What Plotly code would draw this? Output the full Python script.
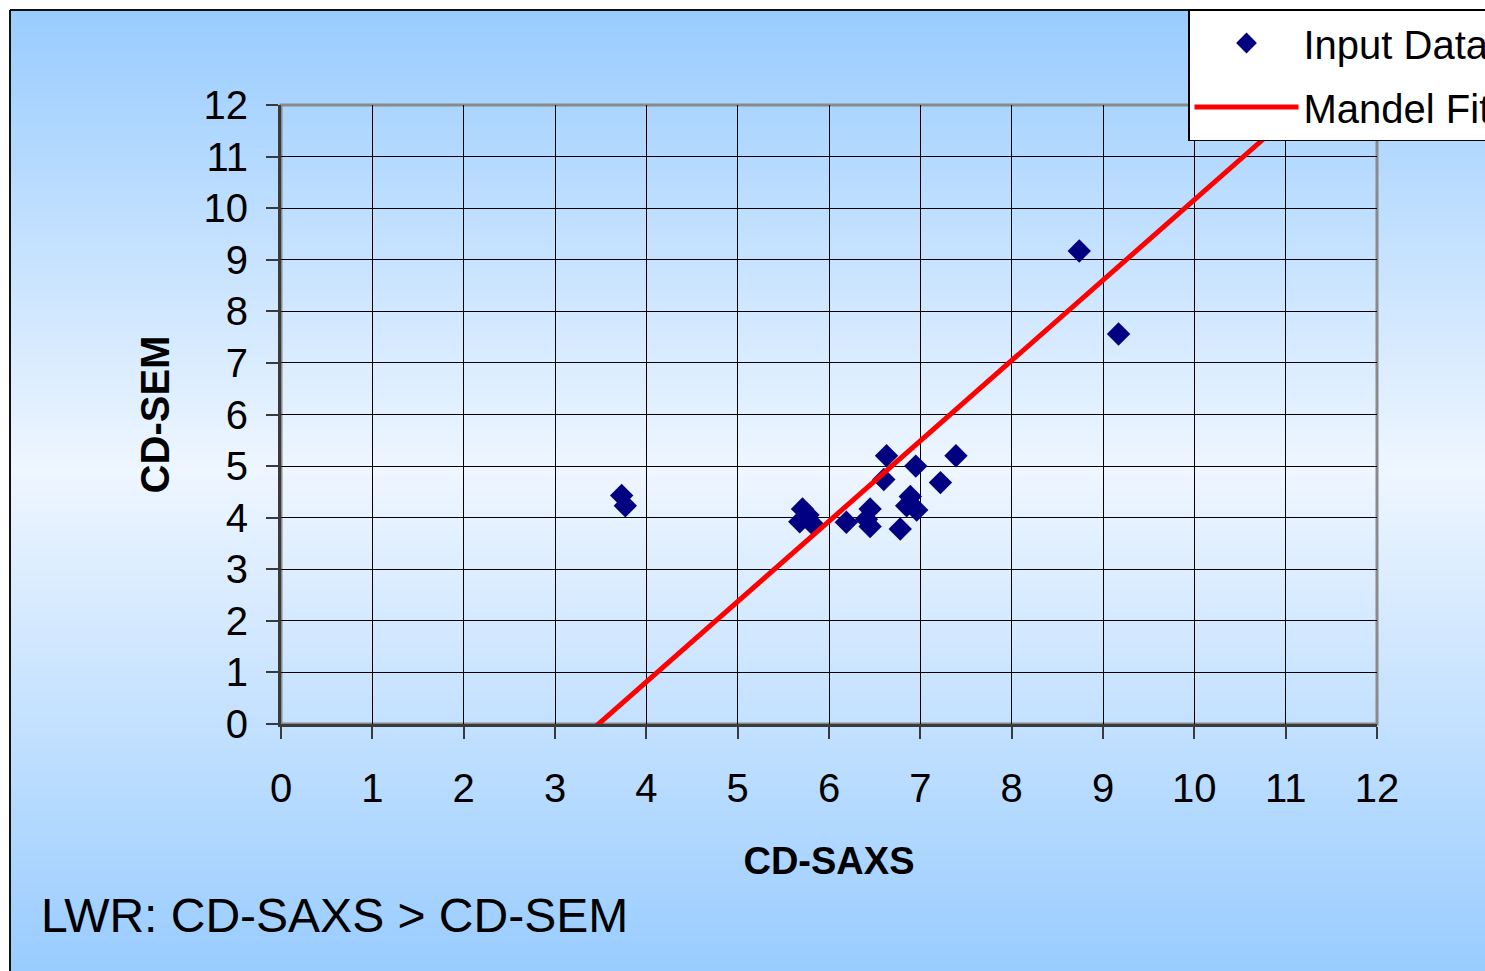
import plotly.graph_objects as go

# CD-SAXS vs CD-SEM line-width roughness measurements
cd_saxs = [3.73, 3.77, 5.71, 5.68, 5.83, 5.77, 6.19, 6.45, 6.45, 6.41, 6.63,
           6.60, 6.95, 7.39, 7.22, 6.89, 6.85, 6.96, 6.78, 8.74, 9.17]
cd_sem = [4.43, 4.23, 4.17, 3.92, 3.86, 4.05, 3.91, 4.17, 3.83, 3.97, 5.20,
          4.74, 5.00, 5.20, 4.68, 4.41, 4.23, 4.15, 3.78, 9.17, 7.56]

# Mandel fit line end points
fit_x = [3.38, 11.18]
fit_y = [-0.15, 12.0]

tick_vals = list(range(0, 13))
tick_text = [str(v) for v in tick_vals]

FONT = "Liberation Sans, Arial, sans-serif"

W, H = 1485, 971
ML, MR, MT, MB = 281, 108, 105, 247
PLOT_W = W - ML - MR
PLOT_H = H - MT - MB

fig = go.Figure()

fig.add_trace(go.Scatter(
    x=cd_saxs, y=cd_sem, mode="markers", name="Input Data",
    marker=dict(symbol="diamond", size=18, color="#000080"),
    legendgroup="a",
))
fig.add_trace(go.Scatter(
    x=fit_x, y=fit_y, mode="lines", name="Mandel Fit",
    line=dict(color="#FF0000", width=5),
    legendgroup="b",
))


def page_y_to_offset(py):
    """Pixel offset measured upward from the bottom edge of the plot area."""
    return (H - MB) - py


# background: vertical gradient panel built from thin bands
top_rgb = (153, 204, 255)
mid_rgb = (238, 246, 255)
y_top, y_mid, y_bot = 10, 470, H
shapes = []
step = 4
py = y_top
while py < y_bot:
    c = py + step / 2
    if c <= y_mid:
        t = (c - y_top) / (y_mid - y_top)
        a, b = top_rgb, mid_rgb
    else:
        t = (c - y_mid) / (y_bot - y_mid)
        a, b = mid_rgb, top_rgb
    col = tuple(round(a[i] + (b[i] - a[i]) * t) for i in range(3))
    shapes.append(dict(
        type="rect", xref="paper", yref="paper", layer="below",
        xsizemode="pixel", ysizemode="pixel", xanchor=0, yanchor=0,
        x0=10 - ML, x1=W - ML + 2,
        y0=page_y_to_offset(py + step + 0.5), y1=page_y_to_offset(py),
        line=dict(width=0), fillcolor="rgb(%d,%d,%d)" % col,
    ))
    py += step

# outer frame (top and left edges)
shapes.append(dict(type="line", xref="paper", yref="paper", layer="below",
                   xsizemode="pixel", ysizemode="pixel", xanchor=0, yanchor=0,
                   x0=10 - ML, x1=W - ML + 2, y0=page_y_to_offset(10), y1=page_y_to_offset(10),
                   line=dict(color="#111111", width=2)))
shapes.append(dict(type="line", xref="paper", yref="paper", layer="below",
                   xsizemode="pixel", ysizemode="pixel", xanchor=0, yanchor=0,
                   x0=10 - ML, x1=10 - ML, y0=page_y_to_offset(10), y1=page_y_to_offset(H + 2),
                   line=dict(color="#111111", width=2)))
# plot area frame
shapes.append(dict(type="rect", xref="x domain", yref="y domain", layer="below",
                   x0=0, x1=1, y0=0, y1=1, line=dict(color="#8a8a8a", width=3)))

fig.update_layout(
    width=W, height=H,
    margin=dict(l=ML, r=MR, t=MT, b=MB, autoexpand=False),
    paper_bgcolor="white",
    plot_bgcolor="rgba(0,0,0,0)",
    font=dict(family=FONT, color="black", size=40),
    shapes=shapes,
    showlegend=True,
    legend=dict(
        x=(1188 - ML) / PLOT_W, y=(H - MB - 9) / PLOT_H,
        xanchor="left", yanchor="top",
        bgcolor="white", bordercolor="black", borderwidth=1.5,
        font=dict(family=FONT, size=40, color="black"),
        tracegroupgap=9, itemwidth=104,
    ),
    annotations=[dict(
        text="LWR: CD-SAXS &gt; CD-SEM", xref="paper", yref="paper",
        x=(39 - ML) / PLOT_W, y=(H - MB - 915) / PLOT_H,
        xanchor="left", yanchor="middle", showarrow=False,
        font=dict(family=FONT, size=48, color="black"),
    )],
)

fig.update_xaxes(
    range=[0, 12], tickvals=tick_vals, ticktext=tick_text,
    showgrid=True, gridcolor="black", gridwidth=1,
    zeroline=False, showline=True, linecolor="#3a3a3a", linewidth=3,
    ticks="outside", ticklen=12, tickwidth=1.5, tickcolor="#3a3a3a",
    ticklabelstandoff=15,
    tickfont=dict(family=FONT, size=40),
    title=dict(text="<b>CD-SAXS</b>", font=dict(family=FONT, size=38), standoff=39),
)
fig.update_yaxes(
    range=[0, 12], tickvals=tick_vals, ticktext=tick_text,
    showgrid=True, gridcolor="black", gridwidth=1,
    zeroline=False, showline=True, linecolor="#3a3a3a", linewidth=3,
    ticks="outside", ticklen=12, tickwidth=1.5, tickcolor="#3a3a3a",
    ticklabelstandoff=10,
    tickfont=dict(family=FONT, size=40),
    title=dict(text="<b>CD-SEM</b>", font=dict(family=FONT, size=40), standoff=22),
)

fig.write_html("out.html")
